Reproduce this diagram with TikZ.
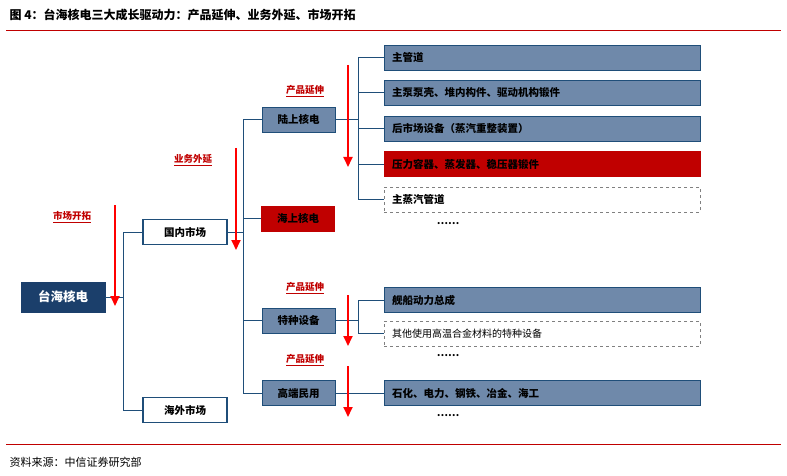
\documentclass[tikz,border=0pt]{standalone}
\usepackage{fontspec}
\setmainfont{Noto Sans CJK SC}
\usetikzlibrary{arrows.meta}
\definecolor{navy}{HTML}{1B3F6B}
\definecolor{steel}{HTML}{6F89AA}
\definecolor{dred}{HTML}{C00000}
\definecolor{line}{HTML}{1F4E79}
\begin{document}
\begin{tikzpicture}[x=1pt,y=-1pt,
 box/.style={draw=line,line width=0.8pt,minimum height=25pt,font=\fontsize{10.5}{10.5}\selectfont\bfseries,inner sep=0pt},
 mid/.style={box,fill=steel,minimum width=73pt},
 wide/.style={box,fill=steel,minimum width=316pt,text width=300pt,align=left},
 wred/.style={wide,fill=dred,draw=dred},
 wdash/.style={wide,fill=white,dashed,draw=gray},
 mkt/.style={box,fill=white,line width=1.8pt,minimum width=84pt},
 conn/.style={line,line width=1pt},
 rarr/.style={draw=red,line width=1.8pt,-{Triangle[length=10pt,width=9pt]}},
 lab/.style={text=dred,font=\fontsize{9.5}{9.5}\selectfont\bfseries\itshape,inner sep=1pt}]
\useasboundingbox (0,0) rectangle (787,476);
\node[anchor=west,font=\fontsize{12}{12}\selectfont\bfseries] (title) at (6,15) {图 4：台海核电三大成长驱动力：产品延伸、业务外延、市场开拓};
\draw[dred,line width=1pt] (6,31) -- (781,31);
\draw[dred,line width=1pt] (6,444) -- (781,444);
\node[anchor=west,font=\fontsize{11}{11}\selectfont] (src) at (6,462) {资料来源：中信证券研究部};

\node[box,fill=navy,draw=navy,text=white,minimum width=84pt,minimum height=30pt,font=\fontsize{12.5}{12.5}\selectfont\bfseries] (th) at (63,297) {台海核电};
\node[mkt] (gn) at (185,232) {国内市场};
\node[mkt] (hw) at (185,410) {海外市场};
\node[mid] (ls) at (298.5,119.5) {陆上核电};
\node[mid,fill=dred,draw=dred] (hs) at (298,218.5) {海上核电};
\node[mid] (tz) at (298.5,320.5) {特种设备};
\node[mid] (gd) at (298.5,393) {高端民用};

\node[wide] (r1) at (542,57.5) {主管道};
\node[wide] (r2) at (542,92.5) {主泵泵壳、堆内构件、驱动机构锻件};
\node[wide] (r3) at (542,128.5) {后市场设备（蒸汽重整装置）};
\node[wred] (r4) at (542,164) {压力容器、蒸发器、稳压器锻件};
\node[wdash] (r5) at (542,199.5) {主蒸汽管道};
\node[font=\bfseries] (d1) at (448,224) {……};
\node[wide] (r6) at (542,300) {舰船动力总成};
\node[wdash,font=\fontsize{10}{10}\selectfont] (r7) at (542,333.5) {其他使用高温合金材料的特种设备};
\node[font=\bfseries] (d2) at (448,356) {……};
\node[wide] (r8) at (542,393) {石化、电力、钢铁、冶金、海工};
\node[font=\bfseries] (d3) at (448,416) {……};

\draw[conn] (th.east) -- (123,297);
\draw[conn] (gn.west) -| (123,410) -- (hw.west);
\draw[conn] (gn.east) -- (243,232);
\draw[conn] (ls.west) -| (243,393) -- (gd.west);
\draw[conn] (hs.west) -- (243,218.5);
\draw[conn] (tz.west) -- (243,320.5);
\draw[conn] (ls.east) -- (358,119.5);
\draw[conn] (r1.west) -| (358,199.5) -- (r5.west);
\foreach \n in {r2,r3,r4} \draw[conn] (\n.west) -- (358,0|-\n.west);
\draw[conn] (tz.east) -- (358,320.5);
\draw[conn] (r6.west) -| (358,333.5) -- (r7.west);
\draw[conn] (gd.east) -- (r8.west);

\draw[rarr] (115,205) -- (115,306);
\draw[rarr] (236,148) -- (236,250);
\draw[rarr] (348,65) -- (348,167);
\draw[rarr] (348,295) -- (348,346);
\draw[rarr] (348,366) -- (348,417);
\node[lab] (l1) at (72,217) {\underline{市场开拓}};
\node[lab] (l2) at (193,160) {\underline{业务外延}};
\node[lab] (l3) at (305,91) {\underline{产品延伸}};
\node[lab] (l4) at (305,288) {\underline{产品延伸}};
\node[lab] (l5) at (305,360) {\underline{产品延伸}};
\end{tikzpicture}
\end{document}
